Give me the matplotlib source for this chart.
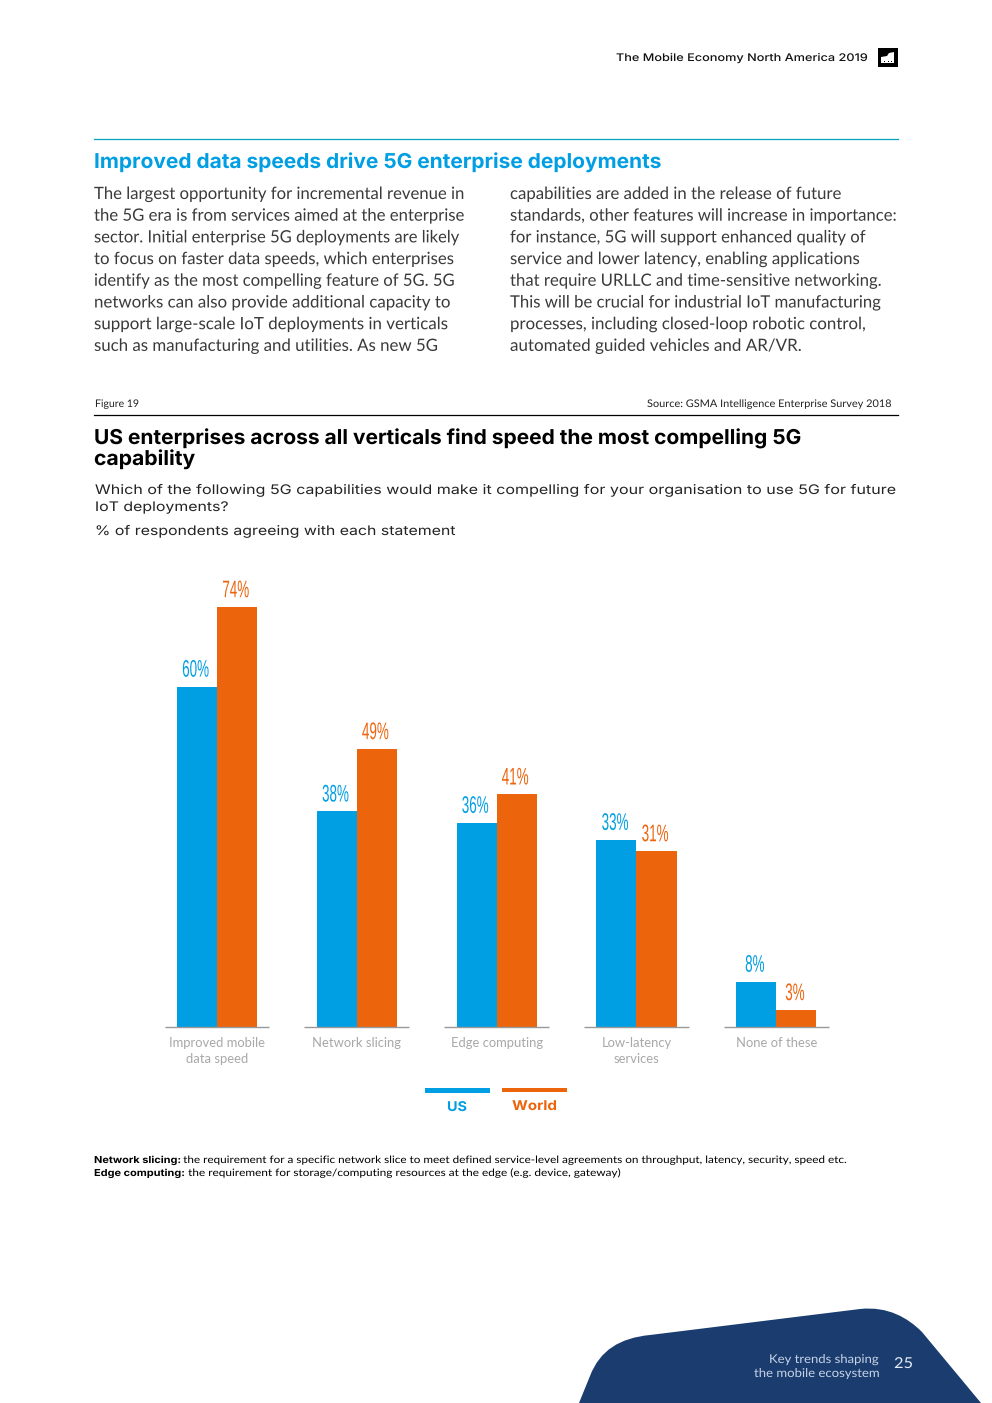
import matplotlib
matplotlib.use('Agg')
import matplotlib.pyplot as plt
from matplotlib.path import Path
from matplotlib.patches import PathPatch, Rectangle
from matplotlib.patheffects import AbstractPathEffect
from matplotlib.transforms import Affine2D

categories = ['Improved mobile\ndata speed', 'Network slicing', 'Edge computing', 'Low-latency\nservices', 'None of these']
us = [60, 38, 36, 33, 8]
world = [74, 49, 41, 31, 3]

left_col = ['The largest opportunity for incremental revenue in',
            'the 5G era is from services aimed at the enterprise',
            'sector. Initial enterprise 5G deployments are likely',
            'to focus on faster data speeds, which enterprises',
            'identify as the most compelling feature of 5G. 5G',
            'networks can also provide additional capacity to',
            'support large-scale IoT deployments in verticals',
            'such as manufacturing and utilities. As new 5G']
left_ends = [465, 465, 460, 454, 455, 451, 448, 438]
right_col = ['capabilities are added in the release of future',
             'standards, other features will increase in importance:',
             'for instance, 5G will support enhanced quality of',
             'service and lower latency, enabling applications',
             'that require URLLC and time-sensitive networking.',
             'This will be crucial for industrial IoT manufacturing',
             'processes, including closed-loop robotic control,',
             'automated guided vehicles and AR/VR.']
right_ends = [842, 897, 866, 860, 882, 881, 866, 802]

BLUE = '#009fe3'
ORANGE = '#ec640c'
NAVY = '#1b3c6e'
GREY = '#a8a8a8'
BODY = '#3a3a3a'


class Squeeze(AbstractPathEffect):
    # stretches the glyphs around their own centre, the text stays text
    def __init__(self, sx):
        super().__init__()
        self.sx = sx

    def draw_path(self, renderer, gc, tpath, affine, rgbFace=None):
        ext = tpath.get_extents()
        cx = ext.x0 + ext.width / 2
        squeeze = Affine2D().translate(-cx, 0).scale(self.sx, 1).translate(cx, 0)
        renderer.draw_path(gc, tpath, squeeze + affine, rgbFace)


fig = plt.figure(figsize=(9.92, 14.03), dpi=100)
rend = fig.canvas.get_renderer()

# page layer in pixel coordinates
bg = fig.add_axes([0, 0, 1, 1])
bg.set_xlim(0, 992)
bg.set_ylim(1403, 0)
bg.axis('off')


def fit(x0, x1, y, s, size, color='black', family='Lato', weight='normal'):
    # text whose width runs from pixel x0 to x1
    t = bg.text((x0 + x1) / 2, y, s, fontsize=size * 0.72, color=color, family=family,
                weight=weight, ha='center', va='baseline')
    t.set_path_effects([Squeeze((x1 - x0) / t.get_window_extent(rend).width)])
    return t


# header
fit(616, 867, 61, 'The Mobile Economy North America 2019', 10.5, family='Inter', weight='medium', color='#111111')
bg.add_patch(Rectangle((878, 48), 20, 19, color='black', lw=0))
bg.add_patch(PathPatch(Path([(881, 63), (881, 57), (887, 56), (889, 53), (894, 52), (894, 63), (881, 63)]),
                       fc='white', lw=0))
for dx in (884, 888, 891):
    bg.add_patch(Rectangle((dx, 61), 1.4, 1.4, color='black', lw=0))

# section heading and text
bg.plot([94, 897.5], [139, 139], color='#00a3c4', lw=0.9)
fit(94, 660, 168, 'Improved data speeds drive 5G enterprise deployments', 20.5, color=BLUE, family='Inter', weight='bold')
for i, line in enumerate(left_col):
    fit(94, left_ends[i], 199 + i * 21.7, line, 17, color=BODY)
for i, line in enumerate(right_col):
    fit(510, right_ends[i], 199 + i * 21.7, line, 17, color=BODY)

# figure header
fit(95, 139, 407, 'Figure 19', 10.5, color='#222222')
fit(647, 892, 407, 'Source: GSMA Intelligence Enterprise Survey 2018', 10.5, color='#222222')
bg.plot([94, 897.5], [415, 415], color='black', lw=0.9)
fit(94, 800, 444, 'US enterprises across all verticals find speed the most compelling 5G', 20.5, family='Inter', weight='bold')
fit(94, 195, 465, 'capability', 20.5, family='Inter', weight='bold')
fit(95, 895, 494, 'Which of the following 5G capabilities would make it compelling for your organisation to use 5G for future', 13.2, family='Inter', color='#222222')
fit(95, 228, 511, 'IoT deployments?', 13.2, family='Inter', color='#222222')
fit(95, 455, 535, '% of respondents agreeing with each statement', 13.2, family='Inter', color='#222222')

# chart
ax = fig.add_axes([94 / 992, 1 - 1027 / 1403, 804 / 992, 467 / 1403])
ax.patch.set_alpha(0)
ax.set_xlim(-0.88, 4.871)
ax.set_ylim(0, 82.3)
w = 0.287
for i in range(len(categories)):
    ax.bar(i - w / 2, us[i], w, color=BLUE)
    ax.bar(i + w / 2, world[i], w, color=ORANGE)
    ax.plot([i - 0.375, i + 0.375], [0, 0], color='#999999', lw=1, clip_on=False, solid_capstyle='butt')
    for val, off, col in ((us[i], -w / 2, BLUE), (world[i], w / 2, ORANGE)):
        t = ax.annotate('%d%%' % val, (i + off, val), xytext=(-1, 3.5), textcoords='offset points',
                        ha='center', va='bottom', color=col, fontsize=24 * 0.72,
                        family=['Liberation Sans Narrow', 'Liberation Sans'])
        t.set_path_effects([Squeeze(0.56)])
for side in ax.spines.values():
    side.set_visible(False)
ax.set_yticks([])
ax.set_xticks(range(len(categories)))
ax.set_xticklabels(categories, fontsize=13 * 0.72, color=GREY, family='Lato', linespacing=1.4)
ax.tick_params(axis='x', length=0, pad=7)

# legend
bg.add_patch(Rectangle((425, 1088), 65, 5, color=BLUE, lw=0))
bg.add_patch(Rectangle((502, 1088), 65, 4, color=ORANGE, lw=0))
fit(447, 467, 1111, 'US', 13.5, color=BLUE, family='Inter', weight='bold')
fit(512, 557, 1110, 'World', 13.5, color=ORANGE, family='Inter', weight='bold')

# footnotes
fit(94, 181, 1163, 'Network slicing:', 9.6, family='Inter', weight='bold')
fit(183, 849, 1163, 'the requirement for a specific network slice to meet defined service-level agreements on throughput, latency, security, speed etc.', 10.2)
fit(94, 185, 1176, 'Edge computing:', 9.6, family='Inter', weight='bold')
fit(188, 622, 1176, 'the requirement for storage/computing resources at the edge (e.g. device, gateway)', 10.2)

# footer shape
verts = [(579, 1403), (590, 1376), (600, 1350), (620, 1338), (650, 1335),
         (860, 1309), (888, 1306), (908, 1318), (922, 1332),
         (981, 1403), (579, 1403)]
codes = [Path.MOVETO, Path.LINETO, Path.CURVE4, Path.CURVE4, Path.CURVE4,
         Path.LINETO, Path.CURVE4, Path.CURVE4, Path.CURVE4,
         Path.LINETO, Path.CLOSEPOLY]
bg.add_patch(PathPatch(Path(verts, codes), fc=NAVY, lw=0))
fit(769, 879, 1363, 'Key trends shaping', 12.2, color='#c5d2e6')
fit(754, 880, 1377, 'the mobile ecosystem', 12.2, color='#c5d2e6')
fit(894, 913, 1368, '25', 15, color='#e6ecf5')

fig.savefig('out.png', dpi=100)
